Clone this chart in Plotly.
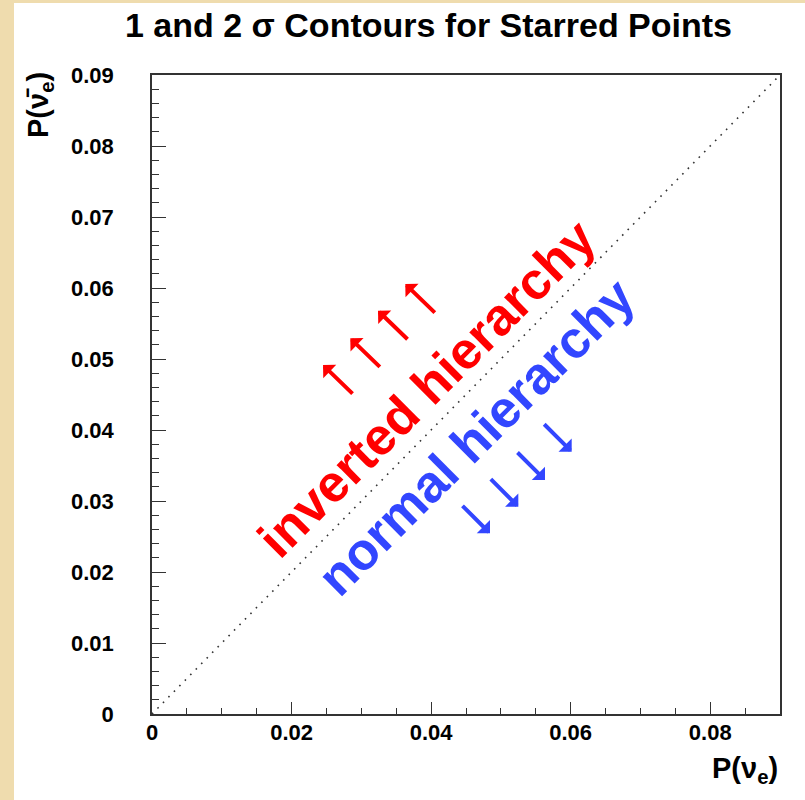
import plotly.graph_objects as go

# Diagonal P(nu_e) = P(anti-nu_e)
diag_x = [0.0, 0.09]
diag_y = [0.0, 0.09]

# Hierarchy labels (text, centre x, centre y)
labels = ["inverted hierarchy", "normal hierarchy"]
label_x = [0.0394, 0.0464]
label_y = [0.0459, 0.0390]
label_colors = ["#ff0000", "#3246ff"]

# Arrow tips for the direction markers
up_tip_x = [0.02451, 0.02842, 0.03239, 0.03630]
up_tip_y = [0.04915, 0.05292, 0.05680, 0.06056]
down_tip_x = [0.04844, 0.05250, 0.05632, 0.06015]
down_tip_y = [0.02545, 0.02920, 0.03296, 0.03694]

FONT = "Liberation Sans, Arial, Helvetica, sans-serif"
W, H = 805, 800
ML, MR, MT, MB = 152, 25, 75, 86
PW, PH = W - ML - MR, H - MT - MB

fig = go.Figure()
fig.add_trace(go.Scatter(
    x=diag_x, y=diag_y, mode="lines",
    line=dict(color="#333333", width=1.6, dash="1.6px,6.2px"),
    hoverinfo="skip", showlegend=False,
))

annotations = []
for t, x, y, c in zip(labels, label_x, label_y, label_colors):
    annotations.append(dict(
        x=x, y=y, xref="x", yref="y", text=t, showarrow=False,
        textangle=-45, xanchor="center", yanchor="middle",
        font=dict(family=FONT, size=52, color=c, weight="bold"),
    ))

for x, y in zip(up_tip_x, up_tip_y):
    annotations.append(dict(
        x=x, y=y, xref="x", yref="y", text="", showarrow=True,
        ax=31, ay=30, axref="pixel", ayref="pixel",
        arrowhead=1, arrowsize=0.78, arrowwidth=4.0, arrowcolor="#ff0000",
        standoff=0, startstandoff=0,
    ))
for x, y in zip(down_tip_x, down_tip_y):
    annotations.append(dict(
        x=x, y=y, xref="x", yref="y", text="", showarrow=True,
        ax=-29, ay=-29, axref="pixel", ayref="pixel",
        arrowhead=1, arrowsize=0.78, arrowwidth=4.0, arrowcolor="#3246ff",
        standoff=0, startstandoff=0,
    ))

# Title and axis titles
annotations.append(dict(
    x=(428 - ML) / PW, y=(H - MB - 25) / PH, xref="paper", yref="paper",
    text="1 and 2 σ Contours for Starred Points", showarrow=False,
    xanchor="center", yanchor="middle",
    font=dict(family=FONT, size=34, color="black", weight="bold"),
))
annotations.append(dict(
    x=1.0, y=(H - MB - 770) / PH, xref="paper", yref="paper",
    text="P(ν<sub>e</sub>)", showarrow=False,
    xanchor="right", yanchor="middle",
    font=dict(family=FONT, size=29, color="black", weight="bold"),
))
annotations.append(dict(
    x=(40 - ML) / PW, y=(H - MB - 70) / PH, xref="paper", yref="paper",
    text="P(ν\u0304<sub>e</sub>)", showarrow=False, textangle=-90,
    xanchor="center", yanchor="top",
    font=dict(family=FONT, size=29, color="black", weight="bold"),
))

# White page over the parchment backdrop
shapes = [dict(
    type="rect", xref="paper", yref="paper", layer="below",
    x0=(14 - ML) / PW, x1=(W - ML) / PW + 0.01,
    y0=-(MB + 2) / PH, y1=(H - MB - 3) / PH,
    fillcolor="white", line=dict(width=0),
)]

axis_common = dict(
    showgrid=False, zeroline=False, showline=True, mirror=True,
    linecolor="#333333", linewidth=1.5,
    ticks="inside", tickcolor="#333333", tickwidth=1.3,
    tickfont=dict(family=FONT, size=22, color="black", weight="bold"),
)

fig.update_layout(
    width=W, height=H,
    margin=dict(l=ML, r=MR, t=MT, b=MB),
    paper_bgcolor="#efdcae",
    plot_bgcolor="white",
    showlegend=False,
    annotations=annotations,
    shapes=shapes,
    xaxis=dict(
        range=[0, 0.09], dtick=0.02, tick0=0, ticklen=12,
        ticklabelstandoff=-2,
        minor=dict(dtick=0.005, ticks="inside", ticklen=6,
                   tickcolor="#333333", tickwidth=1.3),
        **axis_common,
    ),
    yaxis=dict(
        range=[0, 0.09], dtick=0.01, tick0=0, ticklen=14,
        ticklabelstandoff=32,
        minor=dict(dtick=0.002, ticks="inside", ticklen=7,
                   tickcolor="#333333", tickwidth=1.3),
        **axis_common,
    ),
)

fig.write_html("out.html")
